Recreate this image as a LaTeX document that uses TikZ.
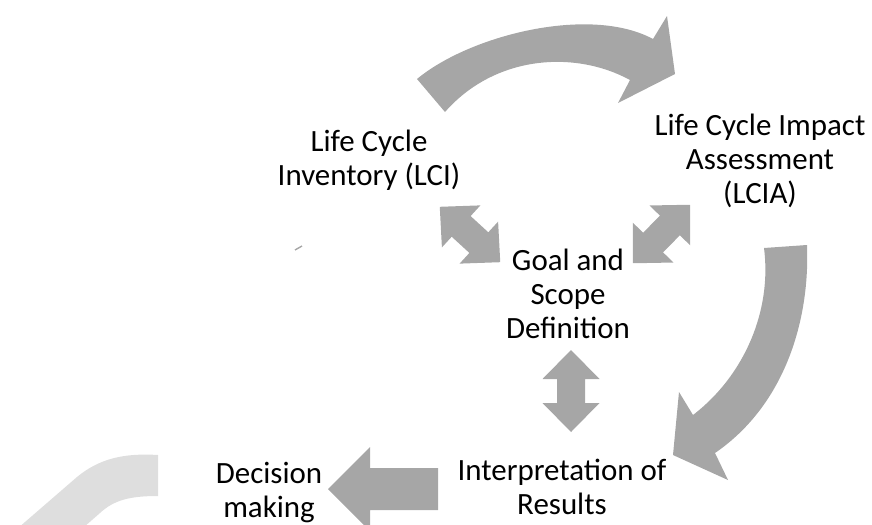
\documentclass[tikz,border=0pt]{standalone}
\usepackage{fontspec}
\setmainfont{Carlito}
\definecolor{arrowgray}{HTML}{A6A6A6}
\definecolor{fadegray}{HTML}{DEDEDE}

\begin{document}
\begin{tikzpicture}[x=0.02cm,y=-0.02cm,
    stagetext/.style={font=\fontsize{17.6}{19.35}\selectfont, align=center, inner sep=0pt},
    dblarrow/.pic={
        \fill[arrowgray] (-41,0) -- (-12,-28.5) -- (-12,-14) -- (12,-14) -- (12,-28.5)
            -- (41,0) -- (12,28.5) -- (12,14) -- (-12,14) -- (-12,28.5) -- cycle;
    }]
\useasboundingbox (0,0) rectangle (872,524);
\clip (0,0) rectangle (872,524);

% Faded arc at the bottom left
\fill[fadegray] (158,455) -- (158,496) .. controls (130,496) and (114,500) .. (100,513)
    -- (60,548) -- (-5,548) -- (77,477) .. controls (100,458) and (125,453) .. (158,455) -- cycle;
\draw[arrowgray, line width=0.8pt] (295,250) -- (302,246);

% Arc arrow LCI -> LCIA
\fill[arrowgray] (417,79) .. controls (470,35) and (590,5) .. (653,39) -- (667,16) -- (675,74)
    -- (618,103) -- (630,80) .. controls (575,50) and (495,55) .. (445,112) -- cycle;

% Arc arrow LCIA -> Interpretation
\fill[arrowgray] (764,248) -- (807,245) .. controls (810,320) and (785,405) .. (715,453)
    -- (728,480) -- (673,455) -- (679,392) -- (693,415) .. controls (745,375) and (772,310) .. (764,248) -- cycle;

% Interpretation -> Decision
\fill[arrowgray] (328,489) -- (370,447) -- (370,468) -- (438,468) -- (438,510) -- (370,510) -- (370,531) -- cycle;

% Double arrows round the goal
\pic[rotate=-42.5] at (470,234.5) {dblarrow};
\pic[rotate=45.5] at (661.5,234) {dblarrow};
\pic[rotate=90] at (571,391) {dblarrow};

% Stages
\node[stagetext] (lci) at (369,160.5) {Life Cycle\\Inventory (LCI)};
\node[stagetext] (lcia) at (760,160.5) {Life Cycle Impact\\Assessment\\(LCIA)};
\node[stagetext] (goal) at (568,294) {Goal and\\Scope\\Definition};
\node[stagetext] (interp) at (562,486.5) {Interpretation of\\Results};
\node[stagetext] (decision) at (269,492.5) {Decision\\making};
\end{tikzpicture}
\end{document}
